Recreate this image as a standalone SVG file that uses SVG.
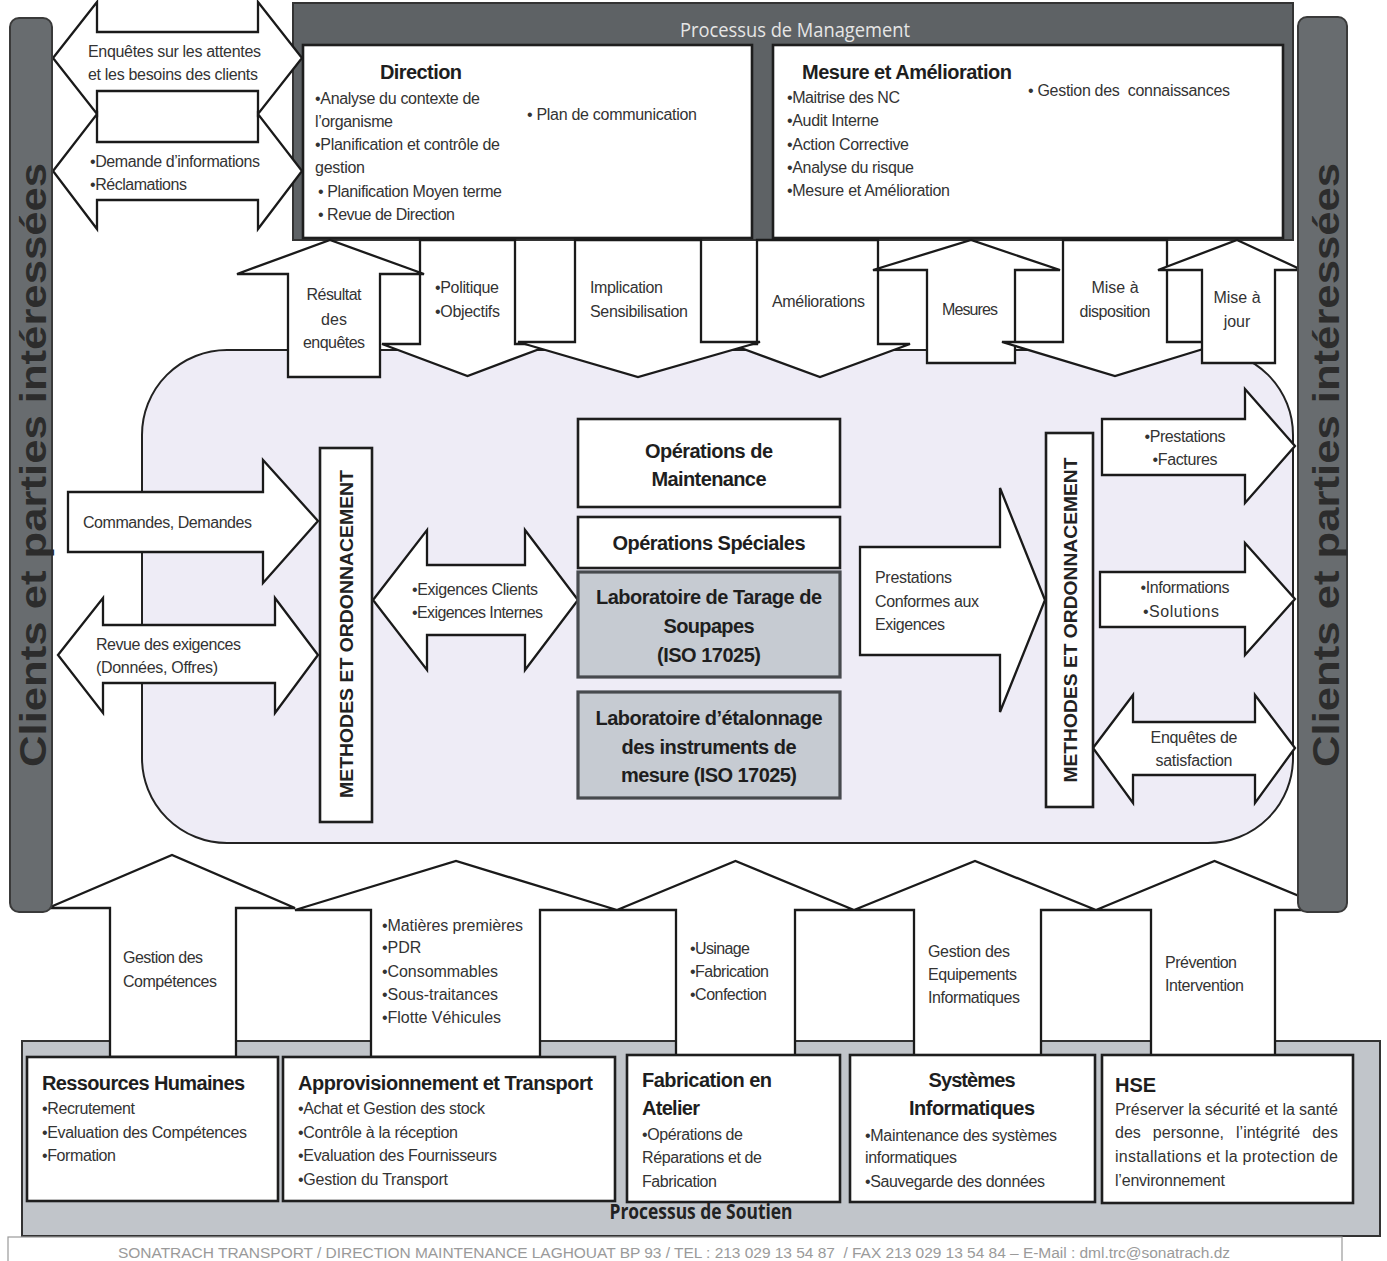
<svg xmlns="http://www.w3.org/2000/svg" width="1387" height="1261" viewBox="0 0 1387 1261">
<style>
.t{font-family:"Liberation Sans",Arial,sans-serif;font-size:16px;fill:#333}
.b{font-family:"Liberation Sans",Arial,sans-serif;font-size:20px;font-weight:bold;fill:#1e1e1e}
.m{text-anchor:middle}
.ar{fill:#fff;stroke:#1a1a1a;stroke-width:2.3;stroke-linejoin:miter}
.bx{fill:#fff;stroke:#1e1e1e;stroke-width:2.6}
.lab{fill:#c6cbd2;stroke:#474a4e;stroke-width:3.2}
.side{fill:#686c6f;stroke:#3a3a3a;stroke-width:2}
.sidet{font-family:"Liberation Sans",Arial,sans-serif;font-size:36px;font-weight:bold;fill:#2c2c2c;text-anchor:middle}
.vt{font-family:"Liberation Sans",Arial,sans-serif;font-size:19px;font-weight:bold;fill:#222;text-anchor:middle}
</style>
<rect x="0" y="0" width="1387" height="1261" fill="#fff"/>

<g id="core-area">
<rect x="142" y="350" width="1151" height="493" rx="85" ry="85" fill="#eeecf6" stroke="#222" stroke-width="2"/>
</g>

<g id="management">
<rect x="293" y="3" width="1000" height="237" fill="#5e6265" stroke="#333" stroke-width="2"/>
<text x="795" y="37" font-family="Open Sans, Liberation Sans, sans-serif" font-size="20" fill="#e6e6e6" text-anchor="middle" textLength="230" lengthAdjust="spacingAndGlyphs">Processus de Management</text>
</g>

<g id="direction">
<rect class="bx" x="303" y="45" width="449" height="193"/>
<text class="b m" x="421" y="79" font-size="19" textLength="82">Direction</text>
<text class="t" x="315" y="104" textLength="165">•Analyse du contexte de</text>
<text class="t" x="315" y="127" textLength="78">l’organisme</text>
<text class="t" x="315" y="150" textLength="185">•Planification et contrôle de</text>
<text class="t" x="315" y="173" textLength="50">gestion</text>
<text class="t" x="318" y="197" textLength="184">• Planification Moyen terme</text>
<text class="t" x="318" y="220" textLength="137">• Revue de Direction</text>
<text class="t" x="527" y="120" textLength="170">• Plan de communication</text>
</g>

<g id="mesure-amelioration">
<rect class="bx" x="773" y="45" width="510" height="193"/>
<text class="b" x="802" y="79" font-size="19" textLength="210">Mesure et Amélioration</text>
<text class="t" x="787" y="103" textLength="113">•Maitrise des NC</text>
<text class="t" x="787" y="126" textLength="92">•Audit Interne</text>
<text class="t" x="787" y="150" textLength="122">•Action Corrective</text>
<text class="t" x="787" y="173" textLength="127">•Analyse du risque</text>
<text class="t" x="787" y="196" textLength="163">•Mesure et Amélioration</text>
<text class="t" x="1028" y="96" textLength="202" xml:space="preserve">• Gestion des  connaissances</text>
</g>

<g id="support-band">
<rect x="22" y="1041" width="1358" height="195" fill="#c1c5ca" stroke="#333" stroke-width="2"/>
<text x="701" y="1219" font-family="Open Sans, Liberation Sans, sans-serif" font-size="21" font-weight="bold" fill="#222" text-anchor="middle" textLength="183" lengthAdjust="spacingAndGlyphs">Processus de Soutien</text>
</g>

<g id="connectors">
<g id="arr-enquetes"><polygon class="ar" points="53,58 97,2 97,32 258,32 258,2 302,58 258,114 258,91 97,91 97,114"/>
<text class="t" x="88" y="57" textLength="173">Enquêtes sur les attentes</text>
<text class="t" x="88" y="80" textLength="170">et les besoins des clients</text></g>
<g id="arr-demande"><polygon class="ar" points="53,171 97,114 97,142 258,142 258,114 302,171 258,229 258,200 97,200 97,229"/>
<text class="t" x="90" y="167" textLength="170">•Demande d’informations</text>
<text class="t" x="90" y="190" textLength="97">•Réclamations</text></g>

<g id="arr-politique"><polygon class="ar" points="420,240 515,240 515,344 553,344 467.5,376 382,344 420,344"/>
<text class="t" x="435" y="293" textLength="64">•Politique</text>
<text class="t" x="435" y="317" textLength="65">•Objectifs</text></g>
<g id="arr-resultat"><polygon class="ar" points="288,377 288,274 237,274 330,240 424,274 380,274 380,377"/>
<text class="t m" x="334" y="300" textLength="55">Résultat</text>
<text class="t m" x="334" y="325">des</text>
<text class="t m" x="334" y="348" textLength="62">enquêtes</text></g>
<g id="arr-ameliorations"><polygon class="ar" points="757,240 878,240 878,344 910,344 820,377 730,344 757,344"/>
<text class="t" x="772" y="307" textLength="93">Améliorations</text></g>
<g id="arr-implication"><polygon class="ar" points="575,240 701,240 701,342 760,342 638,377 518,342 575,342"/>
<text class="t" x="590" y="293" textLength="73">Implication</text>
<text class="t" x="590" y="317" textLength="98">Sensibilisation</text></g>
<g id="arr-mesures"><polygon class="ar" points="927,363 927,270 873,270 971,240 1060,270 1015,270 1015,363"/>
<text class="t" x="942" y="315" textLength="56">Mesures</text></g>
<g id="arr-disposition"><polygon class="ar" points="1063,240 1167,240 1167,342 1226,342 1115,376 1002,342 1063,342"/>
<text class="t m" x="1115" y="293">Mise à</text>
<text class="t m" x="1115" y="317" textLength="71">disposition</text></g>
<g id="arr-misejour"><polygon class="ar" points="1202,363 1202,270 1158,270 1237,240 1302,270 1275,270 1275,363"/>
<text class="t m" x="1237" y="303">Mise à</text>
<text class="t m" x="1237" y="327">jour</text></g>

<g id="arr-commandes"><polygon class="ar" points="68,492 263,492 263,460 318,521 263,583 263,552 68,552"/>
<text class="t" x="83" y="528" textLength="169">Commandes, Demandes</text></g>
<g id="arr-revue"><polygon class="ar" points="58,655 103,598 103,625 275,625 275,598 318,655 275,713 275,683 103,683 103,713"/>
<text class="t" x="96" y="650" textLength="145">Revue des exigences</text>
<text class="t" x="96" y="673" textLength="122">(Données, Offres)</text></g>
<g id="arr-exigences"><polygon class="ar" points="373,600 427,530 427,565 525,565 525,530 578,600 525,670 525,635 427,635 427,670"/>
<text class="t" x="412" y="595" textLength="126">•Exigences Clients</text>
<text class="t" x="412" y="618" textLength="131">•Exigences Internes</text></g>
<g id="arr-conformes"><polygon class="ar" points="860,547 1000,547 1000,488 1045,600 1000,712 1000,655 860,655"/>
<text class="t" x="875" y="583" textLength="77">Prestations</text>
<text class="t" x="875" y="607" textLength="104">Conformes aux</text>
<text class="t" x="875" y="630" textLength="70">Exigences</text></g>
<g id="arr-prestations"><polygon class="ar" points="1102,419 1245,419 1245,389 1295,446 1245,503 1245,475 1102,475"/>
<text class="t m" x="1185" y="442" textLength="81">•Prestations</text>
<text class="t m" x="1185" y="465" textLength="65">•Factures</text></g>
<g id="arr-informations"><polygon class="ar" points="1100,572 1245,572 1245,543 1295,599 1245,655 1245,627 1100,627"/>
<text class="t m" x="1185" y="593" textLength="89">•Informations</text>
<text class="t m" x="1181" y="617" textLength="76">•Solutions</text></g>
<g id="arr-satisfaction"><polygon class="ar" points="1093,748 1133,695 1133,722 1255,722 1255,695 1295,748 1255,803 1255,775 1133,775 1133,803"/>
<text class="t m" x="1194" y="743" textLength="87">Enquêtes de</text>
<text class="t m" x="1194" y="766" textLength="77">satisfaction</text></g>

<g id="arr-competences"><polygon class="ar" points="110,1057 110,908 48,908 172,855 295,908 236,908 236,1057"/>
<text class="t" x="123" y="963" textLength="80">Gestion des</text>
<text class="t" x="123" y="987" textLength="94">Compétences</text></g>
<g id="arr-matieres"><polygon class="ar" points="371,1057 371,910 295,910 456,861 617,910 540,910 540,1057"/>
<text class="t" x="382" y="931" textLength="141">•Matières premières</text>
<text class="t" x="382" y="953">•PDR</text>
<text class="t" x="382" y="977" textLength="116">•Consommables</text>
<text class="t" x="382" y="1000" textLength="116">•Sous-traitances</text>
<text class="t" x="382" y="1023" textLength="119">•Flotte Véhicules</text></g>
<g id="arr-usinage"><polygon class="ar" points="676,1057 676,910 617,910 735.5,861 854,910 795,910 795,1057"/>
<text class="t" x="690" y="954" textLength="60">•Usinage</text>
<text class="t" x="690" y="977" textLength="79">•Fabrication</text>
<text class="t" x="690" y="1000" textLength="77">•Confection</text></g>
<g id="arr-equipements"><polygon class="ar" points="914,1057 914,910 854,910 975,861 1096,910 1041,910 1041,1057"/>
<text class="t" x="928" y="957" textLength="82">Gestion des</text>
<text class="t" x="928" y="980" textLength="89">Equipements</text>
<text class="t" x="928" y="1003" textLength="92">Informatiques</text></g>
<g id="arr-prevention"><polygon class="ar" points="1151,1057 1151,910 1096,910 1214.5,861 1333,910 1275,910 1275,1057"/>
<text class="t" x="1165" y="968" textLength="72">Prévention</text>
<text class="t" x="1165" y="991" textLength="79">Intervention</text></g>
</g>

<g id="methodes-left">
<rect class="bx" x="320" y="448" width="52" height="374"/>
<text class="vt" transform="translate(353,634) rotate(-90)" textLength="328" lengthAdjust="spacingAndGlyphs">METHODES ET ORDONNACEMENT</text>
</g>
<g id="methodes-right">
<rect class="bx" x="1046" y="433" width="47" height="374"/>
<text class="vt" transform="translate(1077,620) rotate(-90)" textLength="325" lengthAdjust="spacingAndGlyphs">METHODES ET ORDONNACEMENT</text>
</g>

<g id="op-maintenance">
<rect class="bx" x="578" y="419" width="262" height="88"/>
<text class="b m" x="709" y="458" textLength="128">Opérations de</text>
<text class="b m" x="709" y="486" textLength="115">Maintenance</text>
</g>
<g id="op-speciales">
<rect class="bx" x="578" y="517" width="262" height="51"/>
<text class="b m" x="709" y="550" textLength="193">Opérations Spéciales</text>
</g>
<g id="lab-tarage">
<rect class="lab" x="578" y="572" width="262" height="105"/>
<text class="b m" x="709" y="604" textLength="226">Laboratoire de Tarage de</text>
<text class="b m" x="709" y="633" textLength="91">Soupapes</text>
<text class="b m" x="709" y="662" textLength="104">(ISO 17025)</text>
</g>
<g id="lab-etalonnage">
<rect class="lab" x="578" y="692" width="262" height="106"/>
<text class="b m" x="709" y="725" textLength="227">Laboratoire d’étalonnage</text>
<text class="b m" x="709" y="754" textLength="175">des instruments de</text>
<text class="b m" x="709" y="782" textLength="176">mesure (ISO 17025)</text>
</g>

<g id="rh">
<rect class="bx" x="27" y="1057" width="251" height="144"/>
<text class="b" x="42" y="1090" textLength="203">Ressources Humaines</text>
<text class="t" x="42" y="1114" textLength="93">•Recrutement</text>
<text class="t" x="42" y="1138" textLength="205">•Evaluation des Compétences</text>
<text class="t" x="42" y="1161" textLength="74">•Formation</text>
</g>
<g id="approvisionnement">
<rect class="bx" x="283" y="1057" width="332" height="144"/>
<text class="b" x="298" y="1090" textLength="295">Approvisionnement et Transport</text>
<text class="t" x="298" y="1114" textLength="187">•Achat et Gestion des stock</text>
<text class="t" x="298" y="1138" textLength="160">•Contrôle à la réception</text>
<text class="t" x="298" y="1161" textLength="199">•Evaluation des Fournisseurs</text>
<text class="t" x="298" y="1185" textLength="150">•Gestion du Transport</text>
</g>
<g id="fabrication">
<rect class="bx" x="627" y="1055" width="213" height="147"/>
<text class="b" x="642" y="1087" textLength="130">Fabrication en</text>
<text class="b" x="642" y="1115" textLength="58">Atelier</text>
<text class="t" x="642" y="1140" textLength="101">•Opérations de</text>
<text class="t" x="642" y="1163" textLength="120">Réparations et de</text>
<text class="t" x="642" y="1187" textLength="75">Fabrication</text>
</g>
<g id="systemes">
<rect class="bx" x="850" y="1055" width="245" height="147"/>
<text class="b m" x="972" y="1087" textLength="87">Systèmes</text>
<text class="b m" x="972" y="1115" textLength="126">Informatiques</text>
<text class="t" x="865" y="1141" textLength="192">•Maintenance des systèmes</text>
<text class="t" x="865" y="1163" textLength="92">informatiques</text>
<text class="t" x="865" y="1187" textLength="180">•Sauvegarde des données</text>
</g>
<g id="hse">
<rect class="bx" x="1102" y="1055" width="251" height="148"/>
<text class="b" x="1115" y="1092">HSE</text>
<text class="t" x="1115" y="1115" textLength="223">Préserver la sécurité et la santé</text>
<text class="t" x="1115" y="1138" word-spacing="7.6">des personne, l’intégrité des</text>
<text class="t" x="1115" y="1162" textLength="223" lengthAdjust="spacing">installations et la protection de</text>
<text class="t" x="1115" y="1186" textLength="110">l’environnement</text>
</g>

<g id="clients-left">
<rect class="side" x="10" y="18" width="42" height="894" rx="9" ry="9"/>
<text class="sidet" transform="translate(46,465) rotate(-90)" textLength="604" lengthAdjust="spacingAndGlyphs">Clients et parties intéressées</text>
</g>
<g id="clients-right">
<rect class="side" x="1298" y="17" width="49" height="895" rx="9" ry="9"/>
<text class="sidet" transform="translate(1339,465) rotate(-90)" textLength="604" lengthAdjust="spacingAndGlyphs">Clients et parties intéressées</text>
</g>

<g id="footer">
<rect x="8" y="1237" width="1334" height="30" fill="#fff" stroke="#9a9a9a" stroke-width="1.2"/>
<text x="674" y="1258" font-family="Liberation Sans, Arial, sans-serif" font-size="15.5" fill="#9a9a9a" text-anchor="middle" textLength="1112" xml:space="preserve">SONATRACH TRANSPORT / DIRECTION MAINTENANCE LAGHOUAT BP 93 / TEL : 213 029 13 54 87  / FAX 213 029 13 54 84 – E-Mail : dml.trc@sonatrach.dz</text>
</g>
</svg>
